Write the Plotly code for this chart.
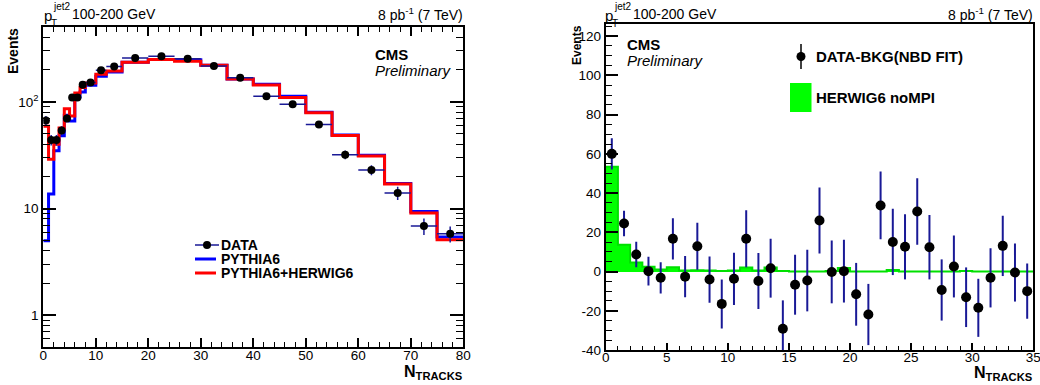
import plotly.graph_objects as go

# ---------------- data: left panel ----------------
edges_left = [0, 1, 2, 3, 4, 5, 6, 7, 8, 10, 12, 15, 20, 25, 30, 35, 40, 45, 50, 55, 60, 65, 70, 75, 80]
data_left = [67, 44, 44, 54, 70, 110, 110, 145, 152, 198, 214, 258, 267, 254, 217, 168,
             113, 95, 61.5, 32, 23, 14, 6.85, 5.8]
data_left_err = [6.5, 5, 5, 5, 6, 7, 7, 7, 6, 7, 7, 8, 8, 8, 7, 6, 5, 5, 4, 3, 2.5, 2, 1.2, 1.0]
pythia6 = [5.0, 13.7, 34.8, 48, 75, 66, 111, 124, 143, 174, 191, 235, 249, 248, 220, 164,
           146, 113, 80, 49, 31.5, 17.2, 9.4, 5.4]
pythia_herwig = [59, 29, 40, 57, 86, 73.5, 121, 136, 150, 181, 195, 235, 249, 240, 220, 164,
                 144, 110, 79, 48.5, 31, 17, 9.1, 5.1]
left_xticks = [0, 10, 20, 30, 40, 50, 60, 70, 80]
left_yticks = [1, 10, 100]
left_yticktext = ["1", "10", "10<sup>2</sup>"]

# ---------------- data: right panel ----------------
edges_right = list(range(0, 36))
data_bkgsub = [60, 24.5, 8.7, 0.2, -3.2, 16.7, -2.6, 12.9, -4.1, -16.5, -3.7, 16.7, -4.8, 1.7,
               -29.2, -6.7, -4.6, 26, -0.2, 0.2, -11.6, -21.9, 33.7, 15.1, 12.6, 30.6, 12.4,
               -9.4, 2.6, -13.1, -18.5, -3.2, 13.1, -0.5, -10]
data_bkgsub_err = [8, 6.5, 6.5, 7.3, 8, 10.5, 10.5, 12, 11.8, 12.5, 13.3, 14.5, 14.3, 15, 14.5,
                   15.3, 15.7, 16.8, 16, 16, 16, 15.6, 17.3, 16.9, 16.6, 17, 16.4, 15.6, 15.8,
                   15.2, 14.8, 15.1, 15.4, 14.8, 14.1]
herwig_nompi = [53.4, 13.6, 4.6, 2.4, 1.0, 2.2, 0.5, 0.7, 0.5, 0.3, 0.5, 2.0, 0.5, 2.0, 0.3, 0,
                0, 0, 0.3, 1.8, 0, 0, 0, 0.8, 0, 0, 0, 0, 0, 0.3, 0, 0, 0, 0, 0]
right_xticks = [0, 5, 10, 15, 20, 25, 30, 35]
right_yticks = [-40, -20, 0, 20, 40, 60, 80, 100, 120]
right_yticktext = ["-40", "-20", "0", "20", "40", "60", "80", "100", "120"]

W, H = 1040, 385
FONT = "Liberation Sans, Arial, Helvetica, sans-serif"
ERRC = "rgb(25,25,150)"


def px(x):
    return x / W


def py(y):
    return 1 - y / H


centers_left = [(a + b) / 2 for a, b in zip(edges_left[:-1], edges_left[1:])]
halfw_left = [(b - a) / 2 for a, b in zip(edges_left[:-1], edges_left[1:])]
centers_right = [(a + b) / 2 for a, b in zip(edges_right[:-1], edges_right[1:])]

fig = go.Figure()

# left panel histograms
fig.add_trace(go.Scatter(x=edges_left, y=pythia6 + [pythia6[-1]], mode="lines",
                         line=dict(color="#0000ff", width=3, shape="hv"),
                         xaxis="x", yaxis="y", showlegend=False))
fig.add_trace(go.Scatter(x=edges_left, y=pythia_herwig + [pythia_herwig[-1]], mode="lines",
                         line=dict(color="#ff0000", width=3, shape="hv"),
                         xaxis="x", yaxis="y", showlegend=False))
fig.add_trace(go.Scatter(x=centers_left, y=data_left, mode="markers",
                         marker=dict(color="black", size=8),
                         error_x=dict(type="data", array=halfw_left, color=ERRC, thickness=1.5, width=0),
                         error_y=dict(type="data", array=data_left_err, color=ERRC, thickness=1.5, width=0),
                         xaxis="x", yaxis="y", showlegend=False))

# right panel
fig.add_trace(go.Bar(x=centers_right, y=herwig_nompi, width=1, marker=dict(color="#00ff00", line=dict(width=0)),
                     xaxis="x2", yaxis="y2", showlegend=False))
fig.add_trace(go.Scatter(x=edges_right, y=herwig_nompi + [herwig_nompi[-1]], mode="lines",
                         line=dict(color="#00e000", width=2, shape="hv"),
                         xaxis="x2", yaxis="y2", showlegend=False))
fig.add_trace(go.Scatter(x=centers_right, y=data_bkgsub, mode="markers",
                         marker=dict(color="black", size=10),
                         error_y=dict(type="data", array=data_bkgsub_err, color=ERRC, thickness=2, width=0),
                         xaxis="x2", yaxis="y2", showlegend=False))

tickfont = dict(family=FONT, size=13.5, color="black")

left_minor_y = [0.6, 0.7, 0.8, 0.9, 2, 3, 4, 5, 6, 7, 8, 9, 20, 30, 40, 50, 60, 70, 80, 90,
                200, 300, 400]

fig.update_layout(
    width=W, height=H, margin=dict(l=0, r=0, t=0, b=0, pad=0, autoexpand=False),
    paper_bgcolor="white", plot_bgcolor="white", bargap=0,
    xaxis=dict(domain=[px(43.3), px(463.3)], range=[0, 80], tickvals=left_xticks,
               ticks="inside", ticklen=9, tickwidth=1.5, tickcolor="black",
               minor=dict(tickvals=[v for v in range(0, 81, 2) if v % 10], ticks="inside", ticklen=5,
                          tickwidth=1, tickcolor="black"),
               showline=True, linecolor="black", linewidth=2, mirror="allticks", automargin=False,
               ticklabelstandoff=-6, ticklabeloverflow="allow",
               showgrid=False, zeroline=False, tickfont=tickfont, anchor="y"),
    yaxis=dict(domain=[py(347.3), py(27.3)], type="log", range=[-0.301, 2.699],
               tickvals=left_yticks, ticktext=left_yticktext,
               ticks="inside", ticklen=13, tickwidth=1.5, tickcolor="black",
               minor=dict(tickvals=left_minor_y, ticks="inside", ticklen=7, tickwidth=1, tickcolor="black"),
               showline=True, linecolor="black", linewidth=2, mirror="allticks", automargin=False,
               ticklabeloverflow="allow",
               showgrid=False, zeroline=False, tickfont=tickfont, anchor="x"),
    xaxis2=dict(domain=[px(605.7), px(1033.3)], range=[0, 35], tickvals=right_xticks,
                ticks="inside", ticklen=7, tickwidth=1.5, tickcolor="black",
                minor=dict(tickvals=[v for v in range(0, 36) if v % 5], ticks="inside", ticklen=4,
                           tickwidth=1, tickcolor="black"),
                showline=True, linecolor="black", linewidth=2, mirror=True, automargin=False,
                ticklabelstandoff=-6, ticklabeloverflow="allow",
                showgrid=False, zeroline=False, tickfont=tickfont, anchor="y2"),
    yaxis2=dict(domain=[py(350), py(24)], range=[-40, 126.2], tickvals=right_yticks,
                ticktext=right_yticktext,
                ticks="inside", ticklen=12, tickwidth=1.5, tickcolor="black",
                minor=dict(tickvals=[v for v in range(-35, 126, 5) if v % 20], ticks="inside", ticklen=6,
                           tickwidth=1, tickcolor="black"),
                showline=True, linecolor="black", linewidth=2, mirror=True, automargin=False,
                ticklabeloverflow="allow",
                showgrid=False, zeroline=False, tickfont=tickfont, anchor="x2"),
)

ann = []


def text(x, y, s, size=14, xanchor="left", yanchor="middle", bold=False, italic=False, angle=0):
    if bold:
        s = "<b>" + s + "</b>"
    if italic:
        s = "<i>" + s + "</i>"
    ann.append(dict(x=px(x), y=py(y), xref="paper", yref="paper", text=s, showarrow=False,
                    xanchor=xanchor, yanchor=yanchor, textangle=angle,
                    font=dict(family=FONT, size=size, color="black"), borderpad=0))


for x0, xr in [(43, 463.5), (604, 1034)]:
    text(x0, 15, "p", size=15)
    text(x0 + 9, 6, "jet2", size=10)
    text(x0 + 7, 23, "T", size=10)
    text(x0 + 28, 14, "100-200 GeV", size=14)
    text(xr, 14, "8 pb<sup>-1</sup> (7 TeV)", size=14, xanchor="right")

# left panel labels
text(13, 51, "Events", size=14, bold=True, xanchor="center", angle=-90)
text(464, 372, "N<sub>TRACKS</sub>", size=16, bold=True, xanchor="right")
text(374, 55, "CMS", size=15, bold=True)
text(374, 71, "Preliminary", size=15, italic=True)
text(220, 245, "DATA", size=14, bold=True)
text(220, 259, "PYTHIA6", size=14, bold=True)
text(220, 273, "PYTHIA6+HERWIG6", size=14, bold=True)

# right panel labels
text(577, 45, "Events", size=12, bold=True, xanchor="center", angle=-90)
text(1034, 373, "N<sub>TRACKS</sub>", size=16, bold=True, xanchor="right")
text(626, 44, "CMS", size=15, bold=True)
text(626, 61, "Preliminary", size=15, italic=True)
text(815, 57, "DATA-BKG(NBD FIT)", size=15, bold=True)
text(815, 98, "HERWIG6 noMPI", size=15, bold=True)

fig.update_layout(annotations=ann)

shapes = []
# left legend glyphs
shapes.append(dict(type="line", xref="paper", yref="paper", x0=px(195), x1=px(219), y0=py(245), y1=py(245),
                   line=dict(color=ERRC, width=1.5)))
shapes.append(dict(type="circle", xref="paper", yref="paper", x0=px(203), x1=px(211), y0=py(249), y1=py(241),
                   fillcolor="black", line=dict(color="black", width=0)))
shapes.append(dict(type="line", xref="paper", yref="paper", x0=px(195), x1=px(216), y0=py(259), y1=py(259),
                   line=dict(color="#0000ff", width=3)))
shapes.append(dict(type="line", xref="paper", yref="paper", x0=px(195), x1=px(216), y0=py(273), y1=py(273),
                   line=dict(color="#ff0000", width=3)))
# right legend glyphs
shapes.append(dict(type="line", xref="paper", yref="paper", x0=px(801), x1=px(801), y0=py(44), y1=py(69),
                   line=dict(color="black", width=1.5)))
shapes.append(dict(type="circle", xref="paper", yref="paper", x0=px(796.5), x1=px(805.5), y0=py(61), y1=py(52),
                   fillcolor="black", line=dict(color="black", width=0)))
shapes.append(dict(type="rect", xref="paper", yref="paper", x0=px(790), x1=px(811.5), y0=py(112), y1=py(83),
                   fillcolor="#00ff00", line=dict(width=0)))
fig.update_layout(shapes=shapes)

fig.write_html("out.html", config={"displayModeBar": False},
               post_script="document.body.style.margin='0px';document.body.style.overflow='hidden';")
